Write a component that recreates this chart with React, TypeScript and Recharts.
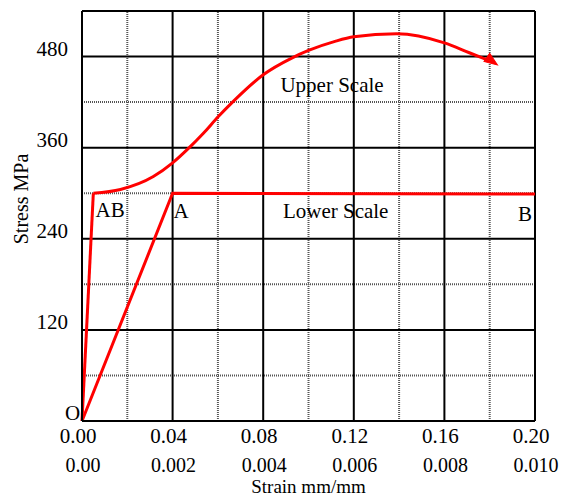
import { LineChart, Line, XAxis, YAxis, ReferenceLine, ReferenceDot } from "recharts";

// upper scale strain (0 - 0.20) and lower scale strain (0 - 0.010)
const upperTicks = [0, 0.04, 0.08, 0.12, 0.16, 0.2];
const lowerTicks = [0, 0.002, 0.004, 0.006, 0.008, 0.01];
const stressTicks = [120, 240, 360, 480];

const majorStrain = [0.04, 0.08, 0.12, 0.16, 0.2];
const minorStrain = [0.02, 0.06, 0.1, 0.14, 0.18];
const majorStress = [120, 240, 360, 480, 540];
const minorStress = [60, 180, 300, 420];

const upperElastic = [
  { strain: 0, stress: 0 },
  { strain: 0.005, stress: 300 },
];

const upperPlastic = [
  { strain: 0.005, stress: 300 },
  { strain: 0.017, stress: 305 },
  { strain: 0.0315, stress: 322 },
  { strain: 0.04, stress: 340 },
  { strain: 0.047, stress: 359 },
  { strain: 0.0536, stress: 379 },
  { strain: 0.0602, stress: 401 },
  { strain: 0.0668, stress: 421 },
  { strain: 0.08, stress: 456 },
  { strain: 0.0926, stress: 478 },
  { strain: 0.1, stress: 488 },
  { strain: 0.1117, stress: 500 },
  { strain: 0.12, stress: 506 },
  { strain: 0.139, stress: 510 },
  { strain: 0.16, stress: 498 },
  { strain: 0.171, stress: 485 },
  { strain: 0.182, stress: 472 },
];

const lowerCurve = [
  { strain: 0, stress: 0 },
  { strain: 0.002, stress: 300 },
  { strain: 0.01, stress: 299 },
];

const notes = [
  { text: "Upper Scale", strain: 0.1104, stress: 443 },
  { text: "Lower Scale", strain: 0.112, stress: 277 },
  { text: "A", strain: 0.0437, stress: 277 },
  { text: "AB", strain: 0.0124, stress: 278 },
  { text: "B", strain: 0.1956, stress: 273 },
  { text: "O", strain: -0.0042, stress: 10 },
];

const FONT = "'Liberation Serif', 'Times New Roman', serif";
const RED = "#ff0000";
const UP = "a_upper";
const LO = "b_lower";

function fmtLower(v: number) {
  return v === 0 ? "0.00" : v.toFixed(3);
}

function XTick(props: any) {
  const { x, y, payload, shift, format, size, down } = props;
  return (
    <text x={x + shift} y={y + down} textAnchor="middle" fontFamily={FONT} fontSize={size} fill="#000">
      {format(payload.value)}
    </text>
  );
}

function YTick(props: any) {
  const { x, y, payload } = props;
  return (
    <text x={x - 14} y={y - 1} textAnchor="end" fontFamily={FONT} fontSize={21} fill="#000">
      {payload.value}
    </text>
  );
}

function YTitle(props: any) {
  const vb = props.viewBox;
  const cx = vb.x + 21;
  const cy = vb.y + vb.height / 2 - 17;
  return (
    <text
      x={cx}
      y={cy}
      transform={`rotate(-90 ${cx} ${cy})`}
      textAnchor="middle"
      dominantBaseline="central"
      fontFamily={FONT}
      fontSize={20}
      fill="#000"
    >
      Stress MPa
    </text>
  );
}

function ArrowDot(props: any) {
  const { cx, cy, index } = props;
  if (index !== upperPlastic.length - 1) return <g key={index} />;
  return (
    <polygon
      key={index}
      transform={`translate(${cx},${cy}) rotate(35)`}
      points="4,0 -9,-5 -9,5"
      fill={RED}
      stroke={RED}
    />
  );
}

function NoteLabel(props: any) {
  const { viewBox, value } = props;
  return (
    <text
      x={viewBox.x + viewBox.width / 2}
      y={viewBox.y + viewBox.height / 2}
      textAnchor="middle"
      dominantBaseline="central"
      fontFamily={FONT}
      fontSize={21}
      fill="#000"
    >
      {value}
    </text>
  );
}

export default function App() {
  return (
    <div style={{ fontFamily: FONT }}>
      <style>{`body { margin: 0; } .recharts-surface { overflow: visible; }`}</style>
      <LineChart width={563} height={496} margin={{ top: 11, right: 28, bottom: 0, left: 0 }}>
        <XAxis
          xAxisId={UP}
          dataKey="strain"
          type="number"
          domain={[0, 0.2]}
          ticks={upperTicks}
          height={32}
          tickSize={0}
          tickMargin={0}
          tickLine={false}
          axisLine={{ stroke: "#000", strokeWidth: 2 }}
          tick={(p: any) => (
            <XTick {...p} shift={-4} size={21} down={22} format={(v: number) => v.toFixed(2)} />
          )}
        />
        <XAxis
          xAxisId={LO}
          dataKey="strain"
          type="number"
          domain={[0, 0.01]}
          ticks={lowerTicks}
          height={43}
          tickSize={0}
          tickMargin={0}
          tickLine={false}
          axisLine={false}
          tick={(p: any) => <XTick {...p} shift={1} size={20} down={19} format={fmtLower} />}
          label={{
            value: "Strain mm/mm",
            position: "insideBottom",
            offset: 3,
            fontFamily: FONT,
            fontSize: 19,
            fill: "#000",
          }}
        />
        <YAxis
          yAxisId="s"
          type="number"
          domain={[0, 540]}
          ticks={stressTicks}
          width={82}
          tickSize={0}
          tickMargin={0}
          tickLine={false}
          axisLine={{ stroke: "#000", strokeWidth: 2 }}
          tick={<YTick />}
          label={<YTitle />}
        />

        {minorStrain.map((v) => (
          <ReferenceLine key={"mx" + v} xAxisId={UP} yAxisId="s" x={v} stroke="#555" strokeWidth={2} strokeDasharray="1 1" />
        ))}
        {minorStress.map((v) => (
          <ReferenceLine key={"my" + v} xAxisId={UP} yAxisId="s" y={v} stroke="#555" strokeWidth={2} strokeDasharray="1 1" />
        ))}
        {majorStrain.map((v) => (
          <ReferenceLine key={"x" + v} xAxisId={UP} yAxisId="s" x={v} stroke="#000" strokeWidth={2} />
        ))}
        {majorStress.map((v) => (
          <ReferenceLine key={"y" + v} xAxisId={UP} yAxisId="s" y={v} stroke="#000" strokeWidth={2} />
        ))}

        <Line
          xAxisId={UP}
          yAxisId="s"
          data={upperElastic}
          dataKey="stress"
          type="linear"
          stroke={RED}
          strokeWidth={3}
          dot={false}
          isAnimationActive={false}
        />
        <Line
          xAxisId={UP}
          yAxisId="s"
          data={upperPlastic}
          dataKey="stress"
          type="monotone"
          stroke={RED}
          strokeWidth={3}
          dot={ArrowDot}
          isAnimationActive={false}
        />
        <Line
          xAxisId={LO}
          yAxisId="s"
          data={lowerCurve}
          dataKey="stress"
          type="linear"
          stroke={RED}
          strokeWidth={3}
          dot={false}
          isAnimationActive={false}
        />

        {notes.map((n) => (
          <ReferenceDot
            key={n.text}
            xAxisId={UP}
            yAxisId="s"
            x={n.strain}
            y={n.stress}
            r={0}
            fill="none"
            stroke="none"
            ifOverflow="visible"
            label={<NoteLabel value={n.text} />}
          />
        ))}
      </LineChart>
    </div>
  );
}
